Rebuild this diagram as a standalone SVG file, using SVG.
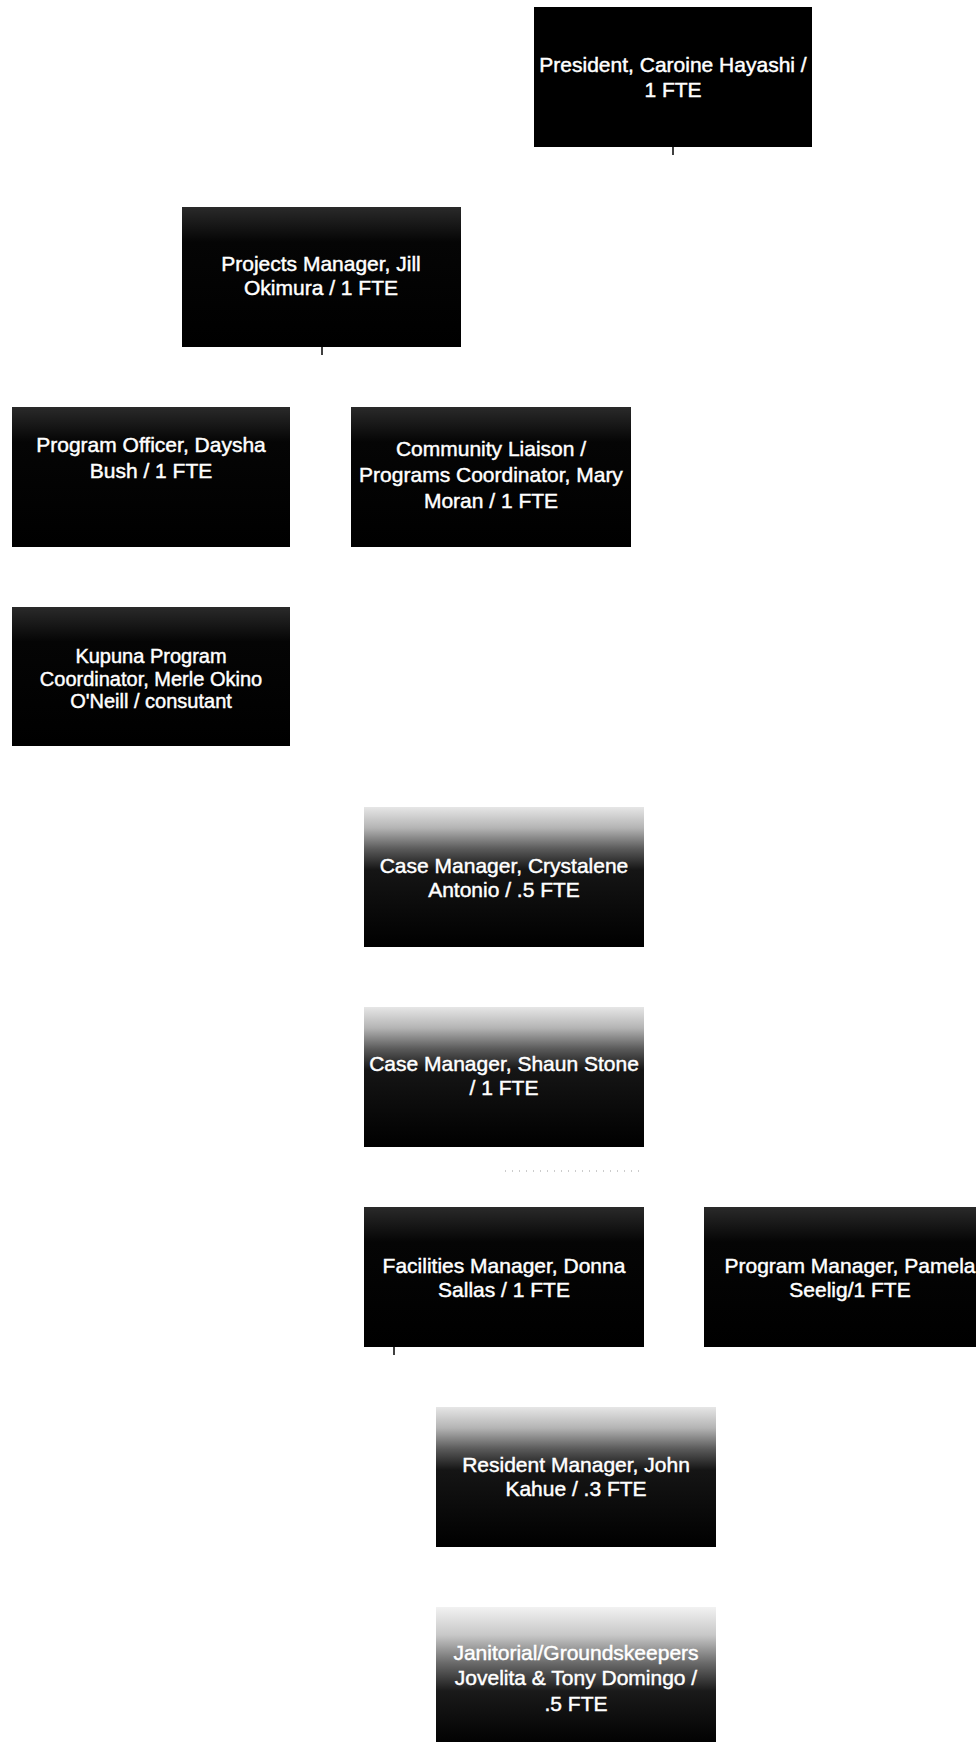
<svg xmlns="http://www.w3.org/2000/svg" width="976" height="1742" viewBox="0 0 976 1742">
<defs>
<style>
.t{font-family:"Liberation Sans",Arial,sans-serif;font-size:21px;fill:#fff;stroke:#fff;stroke-width:0.45;text-anchor:middle}
.k{font-size:20px}
.conn{stroke:#000;stroke-width:1.5;fill:none}
.faint{stroke:#9a9a9a;stroke-width:1.2;stroke-dasharray:1 6;fill:none}
</style>
<linearGradient id="gLight" x1="0" y1="0" x2="0" y2="1">
<stop offset="0" stop-color="#2a2a2a"/>
<stop offset="0.25" stop-color="#050505"/>
<stop offset="1" stop-color="#000"/>
</linearGradient>
<linearGradient id="gMid" x1="0" y1="0" x2="0" y2="1">
<stop offset="0" stop-color="#e6e6e6"/>
<stop offset="0.15" stop-color="#b4b4b4"/>
<stop offset="0.3" stop-color="#5a5a5a"/>
<stop offset="0.45" stop-color="#151515"/>
<stop offset="1" stop-color="#000"/>
</linearGradient>
<linearGradient id="gHeavy" x1="0" y1="0" x2="0" y2="1">
<stop offset="0" stop-color="#f2f2f2"/>
<stop offset="0.2" stop-color="#c8c8c8"/>
<stop offset="0.4" stop-color="#6a6a6a"/>
<stop offset="0.6" stop-color="#1a1a1a"/>
<stop offset="1" stop-color="#000"/>
</linearGradient>
</defs>
<rect width="976" height="1742" fill="#fff"/>

<g id="connectors">
<line class="conn" x1="673" y1="147" x2="673" y2="155"/>
<line class="conn" x1="322" y1="347" x2="322" y2="355"/>
<line class="conn" x1="394" y1="1347" x2="394" y2="1355"/>
<line class="faint" x1="505" y1="1171" x2="640" y2="1171"/>
</g>

<g id="president">
<rect x="534" y="7" width="278" height="140" fill="#000"/>
<text class="t" x="673" y="72">President, Caroine Hayashi /</text>
<text class="t" x="673" y="97">1 FTE</text>
</g>

<g id="projects-manager">
<rect x="182" y="207" width="279" height="140" fill="url(#gLight)"/>
<text class="t" x="321" y="271">Projects Manager, Jill</text>
<text class="t" x="321" y="295">Okimura / 1 FTE</text>
</g>

<g id="program-officer">
<rect x="12" y="407" width="278" height="140" fill="url(#gLight)"/>
<text class="t" x="151" y="452">Program Officer, Daysha</text>
<text class="t" x="151" y="478">Bush / 1 FTE</text>
</g>

<g id="community-liaison">
<rect x="351" y="407" width="280" height="140" fill="url(#gLight)"/>
<text class="t" x="491" y="456">Community Liaison /</text>
<text class="t" x="491" y="482">Programs Coordinator, Mary</text>
<text class="t" x="491" y="508">Moran / 1 FTE</text>
</g>

<g id="kupuna-coordinator">
<rect x="12" y="607" width="278" height="139" fill="url(#gLight)"/>
<text class="t k" x="151" y="663">Kupuna Program</text>
<text class="t k" x="151" y="686">Coordinator, Merle Okino</text>
<text class="t k" x="151" y="708">O'Neill / consutant</text>
</g>

<g id="case-manager-crystalene">
<rect x="364" y="807" width="280" height="140" fill="url(#gMid)"/>
<text class="t" x="504" y="873">Case Manager, Crystalene</text>
<text class="t" x="504" y="897">Antonio / .5 FTE</text>
</g>

<g id="case-manager-shaun">
<rect x="364" y="1007" width="280" height="140" fill="url(#gMid)"/>
<text class="t" x="504" y="1071">Case Manager, Shaun Stone</text>
<text class="t" x="504" y="1095">/ 1 FTE</text>
</g>

<g id="facilities-manager">
<rect x="364" y="1207" width="280" height="140" fill="url(#gLight)"/>
<text class="t" x="504" y="1273">Facilities Manager, Donna</text>
<text class="t" x="504" y="1297">Sallas / 1 FTE</text>
</g>

<g id="program-manager">
<rect x="704" y="1207" width="272" height="140" fill="url(#gLight)"/>
<text class="t" x="850" y="1273">Program Manager, Pamela</text>
<text class="t" x="850" y="1297">Seelig/1 FTE</text>
</g>

<g id="resident-manager">
<rect x="436" y="1407" width="280" height="140" fill="url(#gMid)"/>
<text class="t" x="576" y="1472">Resident Manager, John</text>
<text class="t" x="576" y="1496">Kahue / .3 FTE</text>
</g>

<g id="janitorial">
<rect x="436" y="1607" width="280" height="140" fill="url(#gHeavy)"/>
<text class="t" x="576" y="1660">Janitorial/Groundskeepers</text>
<text class="t" x="576" y="1685">Jovelita &amp; Tony Domingo /</text>
<text class="t" x="576" y="1711">.5 FTE</text>
</g>
</svg>
